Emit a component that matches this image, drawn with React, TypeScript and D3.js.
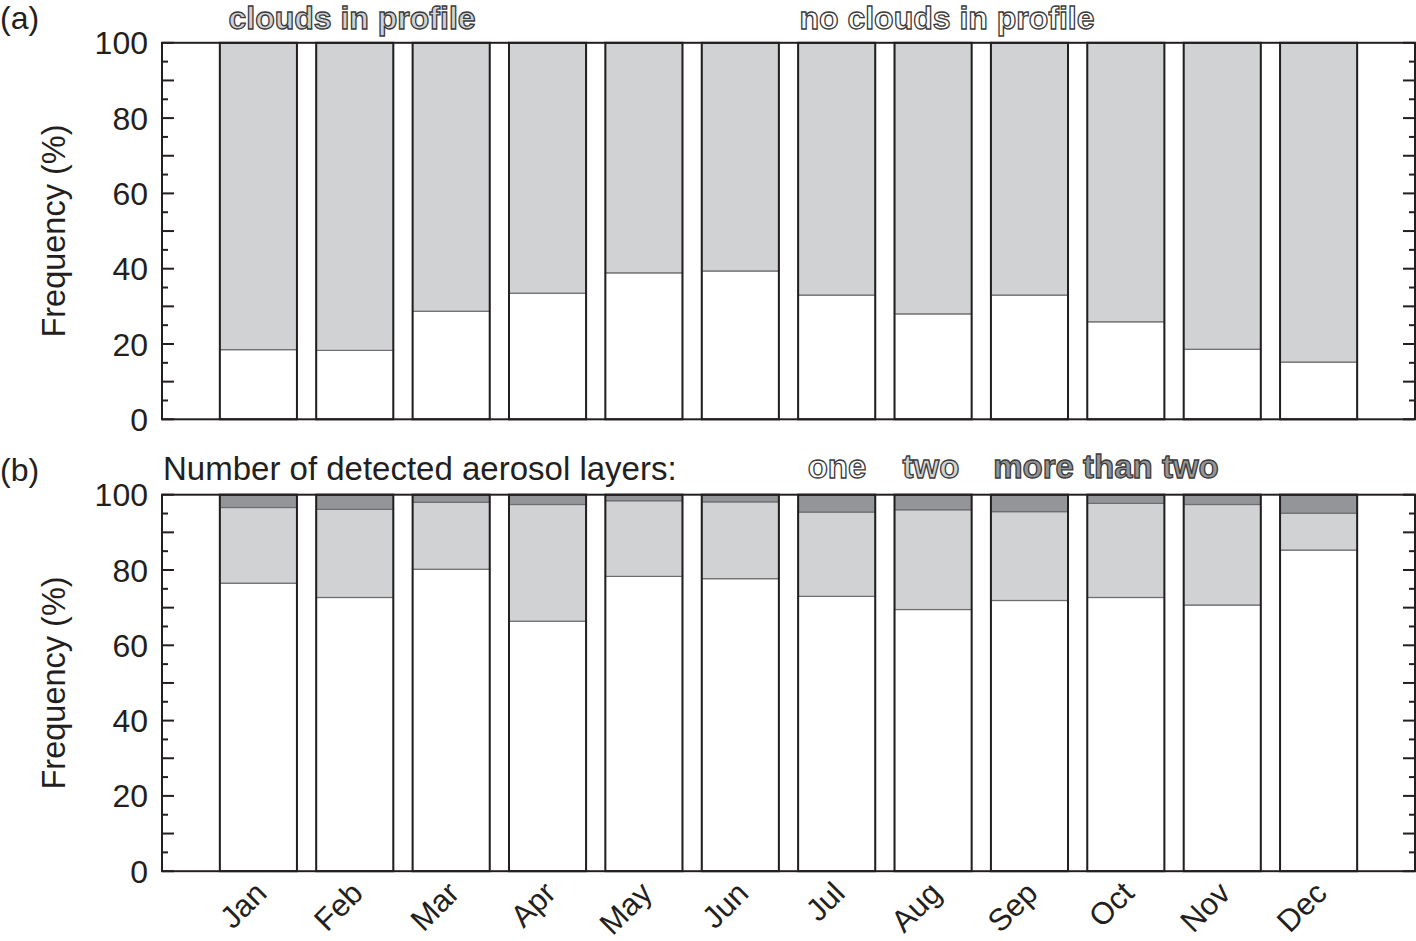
import * as d3 from 'd3';

const months = ['Jan', 'Feb', 'Mar', 'Apr', 'May', 'Jun', 'Jul', 'Aug', 'Sep', 'Oct', 'Nov', 'Dec'];

// (a) share of profiles with / without clouds (%)
const noClouds = [18.5, 18.3, 28.7, 33.5, 38.9, 39.4, 33.0, 28.0, 33.0, 25.9, 18.6, 15.2];
const clouds = [81.5, 81.7, 71.3, 66.5, 61.1, 60.6, 67.0, 72.0, 67.0, 74.1, 81.4, 84.8];

// (b) number of detected aerosol layers (%)
const oneLayer = [76.5, 72.7, 80.2, 66.4, 78.3, 77.7, 73.0, 69.5, 71.9, 72.7, 70.7, 85.3];
const twoLayers = [20.1, 23.4, 17.8, 31.0, 20.1, 20.4, 22.4, 26.5, 23.6, 25.0, 26.7, 9.8];
const moreLayers = [3.4, 3.9, 2.0, 2.6, 1.6, 1.9, 4.6, 4.0, 4.5, 2.3, 2.6, 4.9];

const yTicks = d3.range(0, 101, 5);
const yLabels = [0, 20, 40, 60, 80, 100];

const W = 1416;
const H = 941;
const FONT = '"Liberation Sans", Arial, Helvetica, sans-serif';
const INK = '#231f20';
const WHITE = '#ffffff';
const LIGHT = '#d1d2d4';
const DARK = '#939598';

const x = d3.scaleLinear().domain([0, 13]).range([162, 1415]);
const barW = (x(1) - x(0)) * 0.8;

type PanelProps = {
    top: number;
    bottom: number;
    keys: string[];
    series: number[][];
    colors: string[];
};

function Panel({ top, bottom, keys, series, colors }: PanelProps) {
    const y = d3.scaleLinear().domain([0, 100]).range([bottom, top]);
    const rows = months.map((m, i) => {
        const r: any = { month: m };
        keys.forEach((k, j) => { r[k] = series[j][i]; });
        return r;
    });
    const stacked = d3.stack<any>().keys(keys)(rows);
    const midY = (top + bottom) / 2;

    return (
        <g>
            <rect x={x(0)} y={top} width={x(13) - x(0)} height={bottom - top} fill="white" />
            {stacked.map((layer, j) => (
                <g key={keys[j]}>
                    {layer.map((d, i) => (
                        <rect key={i}
                            x={x(i + 1) - barW / 2}
                            y={y(Math.min(d[1], 100))}
                            width={barW}
                            height={y(d[0]) - y(Math.min(d[1], 100))}
                            fill={colors[j]}
                            stroke="#6d6e70"
                            strokeWidth={1.2} />
                    ))}
                </g>
            ))}
            {months.map((m, i) => (
                <rect key={m}
                    x={x(i + 1) - barW / 2}
                    y={top}
                    width={barW}
                    height={bottom - top}
                    fill="none"
                    stroke={INK}
                    strokeWidth={2} />
            ))}
            {yTicks.map(t => {
                const len = t % 10 === 0 ? 12 : 6;
                return (
                    <g key={t}>
                        <line x1={x(0)} x2={x(0) + len} y1={y(t)} y2={y(t)} stroke={INK} strokeWidth={2} />
                        <line x1={x(13)} x2={x(13) - len} y1={y(t)} y2={y(t)} stroke={INK} strokeWidth={2} />
                    </g>
                );
            })}
            {yLabels.map(t => (
                <text key={t} x={x(0) - 14} y={y(t)} dy="0.36em" textAnchor="end"
                    fontSize={32} fill={INK}>{t}</text>
            ))}
            <rect x={x(0)} y={top} width={x(13) - x(0)} height={bottom - top}
                fill="none" stroke={INK} strokeWidth={2} />
            <text transform={`translate(65,${midY}) rotate(-90)`} textAnchor="middle"
                fontSize={32.5} fill={INK}>Frequency (%)</text>
        </g>
    );
}

export default function App() {
    const yA = d3.scaleLinear().domain([0, 100]).range([419.3, 42.8]);
    const bottomB = 871.2;
    const topB = 494.7;

    const outlined = (txt: string, cx: number, cy: number, fill: string, size = 33) => (
        <text x={cx} y={cy} textAnchor="middle" fontSize={size} fontWeight="bold"
            fill={fill} stroke="#3a3a3a" strokeWidth={1.3}>{txt}</text>
    );

    return (
        <svg width={W} height={H} style={{ position: 'absolute', left: 0, top: 0, background: 'white' }}
            fontFamily={FONT}>
            <text x={0} y={29} fontSize={32} fill={INK}>(a)</text>
            <text x={0} y={481} fontSize={32} fill={INK}>(b)</text>

            {outlined('clouds in profile', 352, 29, LIGHT, 32)}
            {outlined('no clouds in profile', 947, 29, WHITE, 32)}

            <Panel top={yA(100)} bottom={yA(0)}
                keys={['noClouds', 'clouds']}
                series={[noClouds, clouds]}
                colors={[WHITE, LIGHT]} />

            <text x={163} y={480} fontSize={33} fill={INK}>Number of detected aerosol layers:</text>
            {outlined('one', 837, 478, WHITE)}
            {outlined('two', 931, 478, LIGHT)}
            {outlined('more than two', 1106, 478, DARK)}

            <Panel top={topB} bottom={bottomB}
                keys={['one', 'two', 'more']}
                series={[oneLayer, twoLayers, moreLayers]}
                colors={[WHITE, LIGHT, DARK]} />

            {months.map((m, i) => (
                <text key={m} transform={`translate(${x(i + 1) + 10},${895}) rotate(-45)`}
                    textAnchor="end" fontSize={31} fill={INK}>{m}</text>
            ))}
        </svg>
    );
}
